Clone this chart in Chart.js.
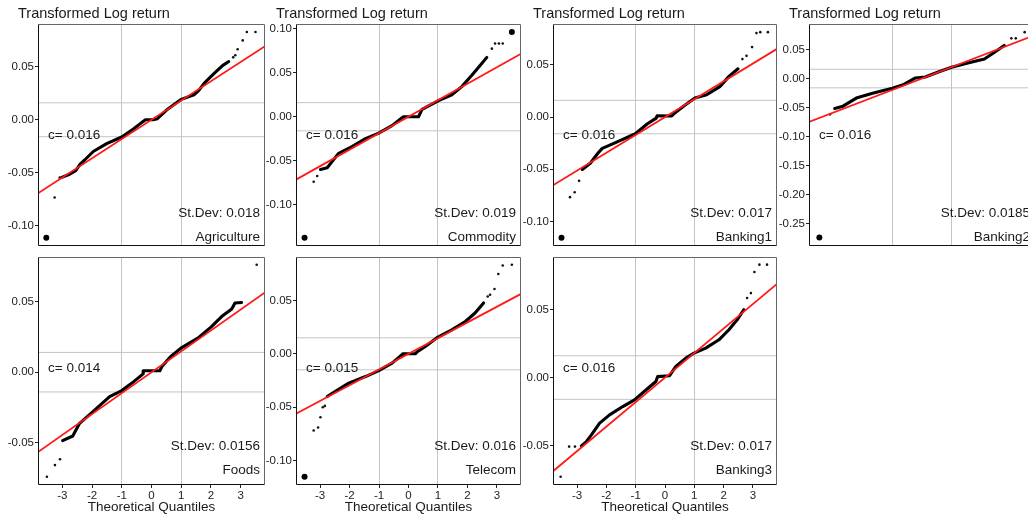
<!DOCTYPE html>
<html lang="en">
<head>
<meta charset="UTF-8">
<title>Transformed Log return - QQ plots</title>
<style>
  html, body { margin: 0; padding: 0; background: #fff; overflow: hidden; }
  #wrap { position: relative; width: 1028px; height: 519px; overflow: hidden; background: #fff; }
  #wrap canvas { position: absolute; }
</style>
</head>
<body>
<div id="wrap"></div>
<script src="https://cdn.jsdelivr.net/npm/chart.js"></script>
<script>
// ---- values ----
const panelNames = ['Agriculture', 'Commodity', 'Banking1', 'Banking2', 'Foods', 'Telecom', 'Banking3'];
const cValues = ['0.016', '0.016', '0.016', '0.016', '0.014', '0.015', '0.016'];
const stDevLabels = ['0.018', '0.019', '0.017', '0.0185', '0.0156', '0.016', '0.017'];
const lineSlopes = [0.0182, 0.0187, 0.0171, 0.0196, 0.0148, 0.0147, 0.018];
const xTickValues = [-3, -2, -1, 0, 1, 2, 3];
const xLimits = [-3.82, 3.82];
const yLimits = [
  [-0.1194, 0.0905], [-0.1469, 0.1053], [-0.1236, 0.0891], [-0.2886, 0.094],
  [-0.0799, 0.0816], [-0.1229, 0.0907], [-0.0789, 0.0885]
];
const yTickValues = [
  [-0.10, -0.05, 0, 0.05],
  [-0.10, -0.05, 0, 0.05, 0.10],
  [-0.10, -0.05, 0, 0.05],
  [-0.25, -0.20, -0.15, -0.10, -0.05, 0, 0.05],
  [-0.05, 0, 0.05],
  [-0.10, -0.05, 0, 0.05],
  [-0.05, 0, 0.05]
];

// sample quantiles: dense body, sparse tail points, heavy extreme points
const agricultureBody = [[-3.02,-0.0545],[-2.8,-0.052],[-2.55,-0.048],[-2.4,-0.042],[-2.24,-0.0378],[-1.96,-0.030],[-1.51,-0.0225],[-1.0,-0.0163],[-0.61,-0.0087],[-0.3,-0.002],[-0.2,0.0],[0.05,0.0],[0.2,0.001],[0.53,0.0098],[0.98,0.019],[1.43,0.0236],[1.6,0.028],[1.77,0.0343],[2.1,0.0436],[2.39,0.0512],[2.6,0.055]];
const agricultureTail = [[-3.26,-0.0734],[-3.09,-0.0547],[2.75,0.059],[2.82,0.061],[2.9,0.0666],[3.07,0.075],[3.21,0.0829],[3.5,0.0829]];
const agricultureBig = [[-3.54,-0.1114]];

const commodityBody = [[-2.99,-0.0599],[-2.76,-0.058],[-2.59,-0.0507],[-2.37,-0.0415],[-1.92,-0.034],[-1.46,-0.0249],[-1.01,-0.0186],[-0.56,-0.0101],[-0.25,-0.002],[-0.17,0.0],[0.34,0.0],[0.46,0.0083],[1.02,0.0183],[1.47,0.0249],[1.81,0.0342],[2.15,0.047],[2.43,0.0581],[2.66,0.0674]];
const commodityTail = [[-3.22,-0.0739],[-3.1,-0.0673],[2.83,0.0773],[2.94,0.0832],[3.07,0.0832],[3.2,0.0832]];
const commodityBig = [[-3.53,-0.1373],[3.51,0.0961]];

const banking1Body = [[-2.82,-0.0502],[-2.54,-0.044],[-2.29,-0.0347],[-2.14,-0.030],[-1.63,-0.0238],[-1.01,-0.016],[-0.61,-0.0067],[-0.3,-0.001],[-0.27,0.0011],[0.23,0.001],[0.3,0.003],[0.63,0.0104],[1.02,0.0182],[1.42,0.0213],[1.87,0.0291],[2.2,0.0394],[2.49,0.0462]];
const banking1Tail = [[-3.24,-0.0767],[-3.08,-0.072],[-2.93,-0.0611],[2.64,0.0555],[2.78,0.0586],[2.97,0.067],[3.12,0.0804],[3.25,0.0813],[3.51,0.0813]];
const banking1Big = [[-3.53,-0.1155]];

const banking2Body = [[-2.95,-0.0515],[-2.67,-0.0475],[-2.22,-0.0336],[-1.67,-0.0252],[-1.0,-0.0168],[-0.61,-0.0101],[-0.22,0.0011],[0.11,0.0028],[0.55,0.0112],[1.0,0.0196],[1.55,0.0268],[2.11,0.0336],[2.44,0.0448],[2.78,0.057]];
const banking2Tail = [[-3.11,-0.0616],[3.02,0.0693],[3.17,0.0693],[3.47,0.080]];
const banking2Big = [[-3.47,-0.274]];

const foodsBody = [[-2.99,-0.0485],[-2.65,-0.0452],[-2.42,-0.0362],[-1.97,-0.0279],[-1.41,-0.0173],[-1.0,-0.013],[-0.6,-0.0067],[-0.28,-0.0012],[-0.28,0.001],[0.28,0.001],[0.35,0.004],[0.64,0.011],[0.99,0.017],[1.56,0.0241],[2.02,0.0323],[2.36,0.0394],[2.7,0.0447],[2.81,0.049],[3.03,0.0494]];
const foodsTail = [[-3.52,-0.0741],[-3.25,-0.0658],[-3.08,-0.0617],[3.54,0.0761]];
const foodsBig = [];

const telecomBody = [[-2.76,-0.040],[-2.59,-0.0369],[-2.03,-0.0275],[-1.46,-0.0213],[-1.01,-0.0157],[-0.56,-0.0087],[-0.22,-0.0009],[-0.2,0.0],[0.23,0.0],[0.3,0.002],[0.57,0.0068],[1.0,0.0157],[1.47,0.0225],[1.93,0.0303],[2.26,0.0382],[2.55,0.0476]];
const telecomTail = [[-3.22,-0.0719],[-3.07,-0.0691],[-2.99,-0.0594],[-2.91,-0.05],[-2.84,-0.0488],[2.69,0.0537],[2.77,0.0553],[2.92,0.0607],[3.05,0.0748],[3.2,0.0828],[3.51,0.0835]];
const telecomBig = [[-3.53,-0.1151]];

const banking3Body = [[-2.85,-0.0502],[-2.68,-0.047],[-2.51,-0.0421],[-2.23,-0.0335],[-1.89,-0.0274],[-1.44,-0.0213],[-1.04,-0.0164],[-0.64,-0.009],[-0.31,-0.0029],[-0.25,0.0007],[0.15,0.0013],[0.37,0.0081],[0.71,0.0143],[0.99,0.0179],[1.39,0.0216],[1.84,0.0277],[2.18,0.0351],[2.46,0.0424],[2.69,0.0498]];
const banking3Tail = [[-3.56,-0.0728],[-3.27,-0.0507],[-3.07,-0.0507],[2.8,0.0584],[2.93,0.062],[3.05,0.0775],[3.22,0.0829],[3.48,0.0829]];
const banking3Big = [];

const bodies = [agricultureBody, commodityBody, banking1Body, banking2Body, foodsBody, telecomBody, banking3Body];
const tails = [agricultureTail, commodityTail, banking1Tail, banking2Tail, foodsTail, telecomTail, banking3Tail];
const bigs = [agricultureBig, commodityBig, banking1Big, banking2Big, foodsBig, telecomBig, banking3Big];

// ---- layout (page pixels of each plot box: left, top, right, bottom) ----
const boxes = [
  [38, 24, 265, 252], [296, 24, 521, 252], [553, 24, 777, 252], [809, 24, 1035, 252],
  [38, 257, 265, 485], [296, 257, 521, 485], [553, 257, 777, 485]
];
const Y_AXIS_W = 38, PAD_TOP = 24, PAD_RIGHT = 10;
const FONT = '"Liberation Sans", Arial, Helvetica, sans-serif';

Chart.defaults.font.family = FONT;
Chart.defaults.color = '#222';

const toPts = arr => arr.map(p => ({ x: p[0], y: p[1] }));

const panelDecor = {
  id: 'panelDecor',
  afterDraw(chart, args, o) {
    const a = chart.chartArea, ctx = chart.ctx;
    const l = Math.round(a.left) + 0.5, t = Math.round(a.top) + 0.5;
    const r = Math.round(a.right) - 0.5, b = Math.round(a.bottom) - 0.5;
    ctx.save();
    ctx.lineWidth = 1;
    ctx.strokeStyle = '#666';
    ctx.beginPath();
    ctx.moveTo(l, t); ctx.lineTo(r, t); ctx.lineTo(r, b);
    ctx.stroke();
    ctx.strokeStyle = '#111';
    ctx.beginPath();
    ctx.moveTo(l, t); ctx.lineTo(l, b); ctx.lineTo(r, b);
    ctx.stroke();

    ctx.fillStyle = '#1a1a1a';
    ctx.textBaseline = 'middle';
    if (o.topRow) {
      ctx.font = '14.5px ' + FONT;
      ctx.textAlign = 'left';
      ctx.fillText('Transformed Log return', a.left - 20, a.top - 10);
    }
    ctx.font = '13.5px ' + FONT;
    ctx.textAlign = 'left';
    ctx.fillText('c= ' + o.c, a.left + 10, a.top + 111);
    ctx.textAlign = 'right';
    ctx.fillText('St.Dev: ' + o.sd, a.right - 5, a.top + 189.5);
    ctx.fillText(o.name, a.right - 5, a.top + 213);
    if (!o.topRow) {
      ctx.textAlign = 'center';
      ctx.fillText('Theoretical Quantiles', (a.left + a.right) / 2, a.bottom + 22.5);
    }
    ctx.restore();
  }
};

const wrap = document.getElementById('wrap');

panelNames.forEach((name, i) => {
  const [L, T, R, B] = boxes[i];
  const topRow = i < 4;
  const xAxisH = topRow ? 2 : 34;
  const canvas = document.createElement('canvas');
  const w = Y_AXIS_W + (R - L) + PAD_RIGHT;
  const h = PAD_TOP + (B - T) + xAxisH;
  canvas.width = w; canvas.height = h;
  canvas.style.width = w + 'px'; canvas.style.height = h + 'px';
  canvas.style.left = (L - Y_AXIS_W) + 'px';
  canvas.style.top = (T - PAD_TOP) + 'px';
  wrap.appendChild(canvas);

  const c = parseFloat(cValues[i]);
  const s = lineSlopes[i];

  new Chart(canvas, {
    type: 'scatter',
    data: {
      datasets: [
        { data: [{ x: xLimits[0], y: s * xLimits[0] }, { x: xLimits[1], y: s * xLimits[1] }],
          showLine: true, borderColor: '#ff1a1a', borderWidth: 1.8, pointRadius: 0, order: 0 },
        { data: toPts(bigs[i]), pointRadius: 3, backgroundColor: '#000', borderWidth: 0, order: 1 },
        { data: toPts(tails[i]), pointRadius: 1.3, backgroundColor: '#111', borderWidth: 0, order: 1 },
        { data: toPts(bodies[i]), showLine: true, borderColor: '#000', borderWidth: 3.1,
          borderJoinStyle: 'round', borderCapStyle: 'round', pointRadius: 0, order: 2 },
        { data: [{ x: xLimits[0], y: c }, { x: xLimits[1], y: c }], showLine: true,
          borderColor: '#c4c4c4', borderWidth: 1, pointRadius: 0, order: 3 },
        { data: [{ x: xLimits[0], y: -c }, { x: xLimits[1], y: -c }], showLine: true,
          borderColor: '#c4c4c4', borderWidth: 1, pointRadius: 0, order: 3 }
      ]
    },
    options: {
      responsive: false,
      animation: false,
      devicePixelRatio: 1,
      layout: { padding: { top: PAD_TOP, right: PAD_RIGHT, left: 0, bottom: 0 } },
      plugins: {
        legend: { display: false },
        tooltip: { enabled: false },
        panelDecor: { topRow: topRow, c: cValues[i], sd: stDevLabels[i], name: name }
      },
      scales: {
        x: {
          type: 'linear', min: xLimits[0], max: xLimits[1],
          afterBuildTicks: sc => { sc.ticks = xTickValues.map(v => ({ value: v })); },
          afterFit: sc => { sc.height = xAxisH; },
          border: { display: false },
          grid: {
            color: ctx => (ctx.tick && Math.abs(ctx.tick.value) === 1) ? '#c4c4c4' : 'rgba(0,0,0,0)',
            lineWidth: 1,
            drawTicks: !topRow, tickLength: 3, tickColor: '#222'
          },
          ticks: { display: !topRow, padding: 1, font: { size: 11.5 }, color: '#222',
                   maxRotation: 0, callback: v => String(v) }
        },
        y: {
          type: 'linear', min: yLimits[i][0], max: yLimits[i][1],
          afterBuildTicks: sc => { sc.ticks = yTickValues[i].map(v => ({ value: v })); },
          afterFit: sc => { sc.width = Y_AXIS_W; },
          border: { display: false },
          grid: { drawOnChartArea: false, tickLength: 3, tickColor: '#222' },
          ticks: { padding: 1, font: { size: 11.5 }, color: '#222', callback: v => v.toFixed(2) }
        }
      }
    },
    plugins: [panelDecor]
  });
});
</script>
</body>
</html>
